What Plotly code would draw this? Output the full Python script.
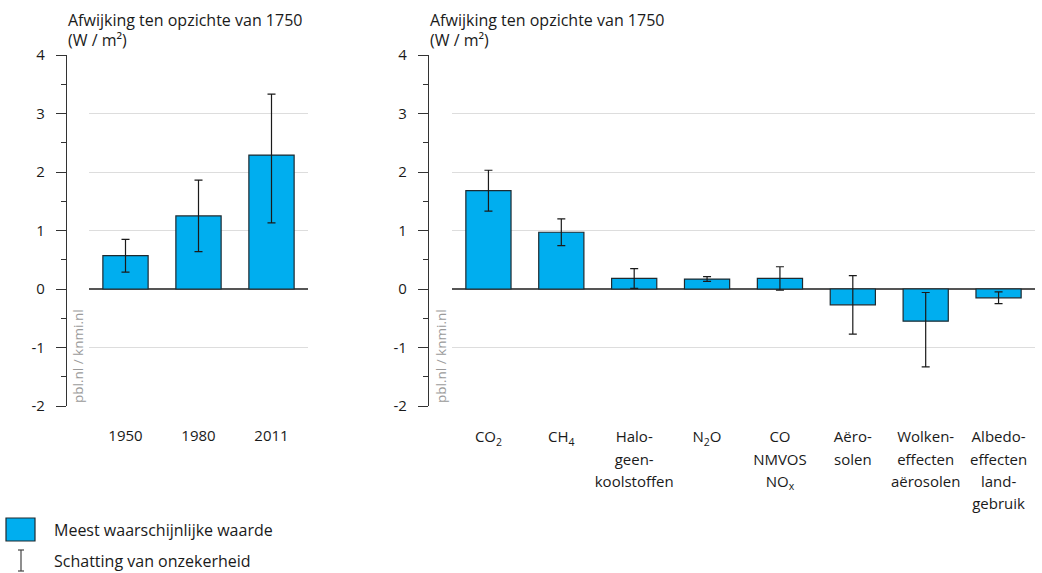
import plotly.graph_objects as go

W, H = 1042, 573

# ---- data ----
years = ["1950", "1980", "2011"]
years_val = [0.57, 1.25, 2.29]
years_lo = [0.29, 0.64, 1.13]
years_hi = [0.85, 1.86, 3.33]

comp_labels = [
    "CO<sub>2</sub>",
    "CH<sub>4</sub>",
    "Halo-<br>geen-<br>koolstoffen",
    "N<sub>2</sub>O",
    "CO<br>NMVOS<br>NO<sub>x</sub>",
    "Aëro-<br>solen",
    "Wolken-<br>effecten<br>aërosolen",
    "Albedo-<br>effecten<br>land-<br>gebruik",
]
comp_val = [1.68, 0.97, 0.18, 0.17, 0.18, -0.27, -0.55, -0.15]
comp_lo = [1.33, 0.74, 0.01, 0.13, -0.02, -0.77, -1.33, -0.25]
comp_hi = [2.03, 1.20, 0.35, 0.21, 0.38, 0.23, -0.06, -0.05]

y_ticks = [-2, -1, 0, 1, 2, 3, 4]
title_line1 = "Afwijking ten opzichte van 1750"
title_line2 = "(W / m²)"
watermark = "pbl.nl / knmi.nl"
legend_labels = ["Meest waarschijnlijke waarde", "Schatting van onzekerheid"]

BAR = "#00aeef"
EDGE = "#1e2a30"
FONT = "Open Sans"
TXT = "#1a1a1a"
FS = 15
FS_BIG = 16


def px_x(x):
    return x / W


def px_y(y):
    return 1 - y / H


fig = go.Figure()


def add_bars(xs, vals, lo, hi, xa, ya):
    fig.add_trace(go.Bar(
        x=xs, y=vals, xaxis=xa, yaxis=ya,
        marker=dict(color=BAR, line=dict(color=EDGE, width=1.2)),
        error_y=dict(type="data", symmetric=False,
                     array=[h - v for h, v in zip(hi, vals)],
                     arrayminus=[v - l for v, l in zip(vals, lo)],
                     color="#1a1a1a", thickness=1.2, width=4),
        showlegend=False, hoverinfo="skip",
    ))


add_bars(years, years_val, years_lo, years_hi, "x", "y")
add_bars(comp_labels, comp_val, comp_lo, comp_hi, "x2", "y2")

ydom = [px_y(406), px_y(55)]

yaxis_common = dict(
    range=[-2, 4], tickvals=y_ticks, ticktext=[str(v) for v in y_ticks],
    showgrid=True, gridcolor="#dddddd", gridwidth=1,
    zeroline=True, zerolinecolor="#555555", zerolinewidth=1.5,
    showline=True, linecolor="#333333", linewidth=1.2,
    ticks="outside", ticklen=10, tickcolor="#333333", tickwidth=1.2,
    ticklabelstandoff=8,
    minor=dict(dtick=0.5, tick0=0, ticks="outside", ticklen=5,
               tickcolor="#333333", tickwidth=1.2, showgrid=False),
    tickfont=dict(family=FONT, size=FS, color=TXT),
    domain=ydom, anchor="free", fixedrange=True, automargin=False,
)

xaxis_common = dict(
    type="category",
    showgrid=False, showline=False, zeroline=False,
    ticks="outside", tickcolor="rgba(0,0,0,0)",
    fixedrange=True, automargin=False,
)

# wider line spacing for the multi-line labels: larger base size, 15px text
comp_ticktext = ['<span style="font-size:15px">' + lab + '</span>' for lab in comp_labels]

fig.update_layout(
    template="none",
    width=W, height=H,
    margin=dict(l=0, r=0, t=0, b=0, pad=0, autoexpand=False),
    paper_bgcolor="white", plot_bgcolor="white",
    bargap=0.38,
    xaxis=dict(domain=[px_x(89), px_x(308)], anchor="y", ticklen=16,
               tickfont=dict(family=FONT, size=FS, color=TXT), **xaxis_common),
    xaxis2=dict(domain=[px_x(452), px_x(1035)], anchor="y2", ticklen=15,
                tickvals=comp_labels, ticktext=comp_ticktext,
                tickfont=dict(family=FONT, size=17, color=TXT), **xaxis_common),
    yaxis=dict(position=px_x(66), **yaxis_common),
    yaxis2=dict(position=px_x(428), **yaxis_common),
    font=dict(family=FONT, color=TXT),
)

annotations = []
for x0 in (66, 428):
    annotations.append(dict(x=px_x(x0), y=px_y(20), xref="paper", yref="paper",
                            text=title_line1, showarrow=False, xanchor="left",
                            yanchor="middle", font=dict(family=FONT, size=FS_BIG, color=TXT)))
    annotations.append(dict(x=px_x(x0), y=px_y(40), xref="paper", yref="paper",
                            text=title_line2, showarrow=False, xanchor="left",
                            yanchor="middle", font=dict(family=FONT, size=FS_BIG, color=TXT)))
for xc in (78, 441):
    annotations.append(dict(x=px_x(xc), y=px_y(405), xref="paper", yref="paper",
                            text=watermark, textangle=-90, showarrow=False,
                            xanchor="center", yanchor="bottom",
                            font=dict(family=FONT, size=13.5, color="#9a9a9a")))

annotations.append(dict(x=px_x(52), y=px_y(530), xref="paper", yref="paper",
                        text=legend_labels[0], showarrow=False, xanchor="left",
                        yanchor="middle", font=dict(family=FONT, size=FS_BIG, color=TXT)))
annotations.append(dict(x=px_x(52), y=px_y(561), xref="paper", yref="paper",
                        text=legend_labels[1], showarrow=False, xanchor="left",
                        yanchor="middle", font=dict(family=FONT, size=FS_BIG, color=TXT)))

shapes = [
    dict(type="rect", xref="paper", yref="paper",
         x0=px_x(6), x1=px_x(35), y0=px_y(541), y1=px_y(518),
         fillcolor=BAR, line=dict(color=EDGE, width=1.2)),
    dict(type="line", xref="paper", yref="paper",
         x0=px_x(21), x1=px_x(21), y0=px_y(550), y1=px_y(571),
         line=dict(color="#444444", width=1.2)),
    dict(type="line", xref="paper", yref="paper",
         x0=px_x(18), x1=px_x(24), y0=px_y(550), y1=px_y(550),
         line=dict(color="#444444", width=1.2)),
    dict(type="line", xref="paper", yref="paper",
         x0=px_x(18), x1=px_x(24), y0=px_y(571), y1=px_y(571),
         line=dict(color="#444444", width=1.2)),
]

fig.update_layout(annotations=annotations, shapes=shapes)

fig.write_html("out.html",
               config={"displayModeBar": False},
               post_script="document.body.style.margin='0';document.body.style.overflow='hidden';")
